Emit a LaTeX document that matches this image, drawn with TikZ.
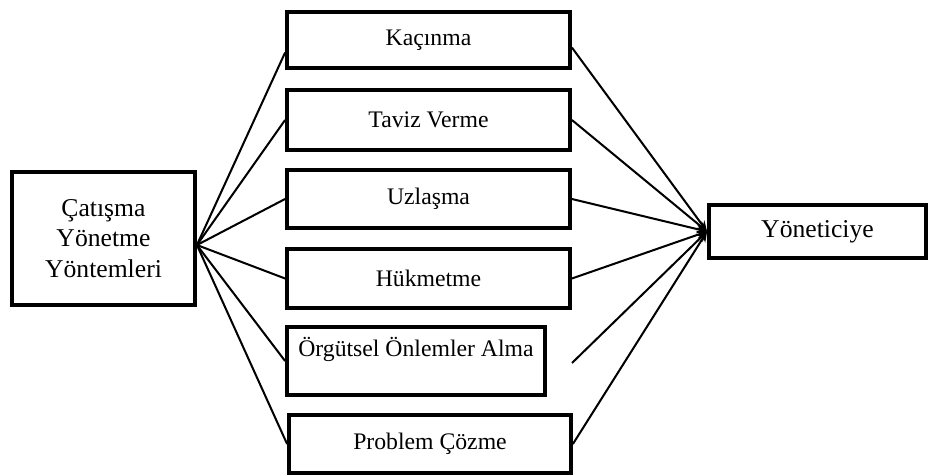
\documentclass[tikz,border=0pt]{standalone}
\usepackage{fontspec}
\setmainfont{Liberation Serif}
\usetikzlibrary{arrows.meta, positioning}

\begin{document}
\begin{tikzpicture}[x=0.02cm, y=-0.02cm,
  box/.style={draw, line width=2.2pt, inner sep=2pt, align=center,
    font=\fontsize{13.5}{16}\selectfont},
  bigbox/.style={box, font=\fontsize{14.6}{17.5}\selectfont},
  link/.style={line width=1.15pt},
  tolink/.style={link, -{Stealth[length=6pt, width=5pt]}}]

  \useasboundingbox (0,0) rectangle (931,476);

  % left: the methods
  \node[bigbox, minimum width=3.66cm, minimum height=2.66cm] (cat) at (103.5,238.5)
    {Çatışma\\Yönetme\\Yöntemleri};

  % middle column
  \node[box, minimum width=5.66cm, minimum height=1.12cm] (kac) at (428.5,40) {Kaçınma};
  \node[box, minimum width=5.66cm, minimum height=1.2cm] (tav) at (428.5,120) {Taviz Verme};
  \node[box, minimum width=5.66cm, minimum height=1.16cm] (uzl) at (428.5,199) {Uzlaşma};
  \node[box, minimum width=5.66cm, minimum height=1.18cm] (huk) at (428.5,278.5) {Hükmetme};
  \node[box, minimum width=5.16cm, minimum height=1.36cm] (org) at (416,361)
    {Örgütsel Önlemler Alma\\ \mbox{}};
  \node[box, minimum width=5.64cm, minimum height=1.16cm] (prob) at (430,444) {Problem Çözme};

  % right: target
  \node[bigbox, minimum width=4.34cm, minimum height=1.06cm] (yon) at (817.5,231.5) {Yöneticiye};
  \coordinate (orgend) at (572,363);

  % fan out from the left box
  \draw[link] (cat.-4) -- (kac.185);
  \foreach \b in {tav,uzl,huk,org,prob}{
    \draw[link] (cat.-4) -- (\b.west);
  }
  % fan in to the right box
  \draw[tolink] (kac.-3) -- (yon.west);
  \foreach \b in {tav,uzl,huk,prob}{
    \draw[tolink] (\b.east) -- (yon.west);
  }
  \draw[tolink] (orgend) -- (yon.west);

\end{tikzpicture}
\end{document}
